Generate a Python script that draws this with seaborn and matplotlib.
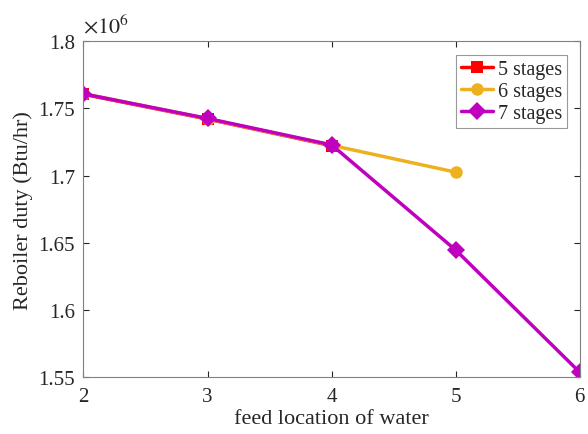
import matplotlib
matplotlib.use("Agg")
import matplotlib.pyplot as plt
import matplotlib.ticker as mticker
import pandas as pd
import seaborn as sns

# feed location of water vs reboiler duty (Btu/hr)
feed_5 = [2, 3, 4]
duty_5 = [1.7605e6, 1.7420e6, 1.7222e6]
feed_6 = [2, 3, 4, 5]
duty_6 = [1.7610e6, 1.7422e6, 1.7225e6, 1.7025e6]
feed_7 = [2, 3, 4, 5, 6]
duty_7 = [1.7608e6, 1.7425e6, 1.7228e6, 1.6445e6, 1.5535e6]
labels = ["5 stages", "6 stages", "7 stages"]

df = pd.concat([
    pd.DataFrame({"feed": feed_5, "duty": duty_5, "series": labels[0]}),
    pd.DataFrame({"feed": feed_6, "duty": duty_6, "series": labels[1]}),
    pd.DataFrame({"feed": feed_7, "duty": duty_7, "series": labels[2]}),
])

sns.set_style("ticks")
plt.rcParams["font.family"] = ["Liberation Serif", "DejaVu Serif"]
plt.rcParams["mathtext.fontset"] = "stix"

fig = plt.figure(figsize=(5.88, 4.35), dpi=100)
ax = fig.add_axes([0.142, 0.131, 0.844, 0.772])

palette = {labels[0]: "#FF0000", labels[1]: "#EDB120", labels[2]: "#BF00BF"}
markers = {labels[0]: "s", labels[1]: "o", labels[2]: "D"}
sns.lineplot(data=df, x="feed", y="duty", hue="series", style="series",
             palette=palette, markers=markers, dashes=False, lw=2.5,
             markersize=9, markeredgewidth=0, ax=ax)

ax.set_xlim(2, 6)
ax.set_ylim(1.55e6, 1.8e6)
ax.set_xticks([2, 3, 4, 5, 6])
ax.set_yticks([1.55e6, 1.6e6, 1.65e6, 1.7e6, 1.75e6, 1.8e6])
ax.yaxis.set_major_formatter(mticker.FuncFormatter(lambda v, p: f"{v / 1e6:g}"))

gray = "#262626"
for s in ax.spines.values():
    s.set_visible(True)
    s.set_color("#808080")
    s.set_linewidth(0.8)
ax.tick_params(direction="in", top=True, right=True, labelsize=15,
               colors=gray, length=4, width=0.8)
ax.tick_params(axis="x", pad=7)
ax.tick_params(axis="y", pad=6)
ax.text(0.0, 1.01, r"$\times10^{6}$", transform=ax.transAxes, fontsize=16,
        color=gray, ha="left", va="bottom")
ax.set_xlabel("feed location of water", fontsize=16, color=gray, labelpad=2)
ax.set_ylabel("Reboiler duty (Btu/hr)", fontsize=16, color=gray, labelpad=4)

leg = ax.legend(loc="upper right", bbox_to_anchor=(0.975, 0.96), fontsize=14.5,
                frameon=True, fancybox=False, edgecolor="#808080",
                handlelength=1.6, handletextpad=0.25, borderpad=0.25,
                labelspacing=0.15, borderaxespad=0)
leg.get_frame().set_linewidth(0.8)

fig.savefig("out.png", dpi=100)
